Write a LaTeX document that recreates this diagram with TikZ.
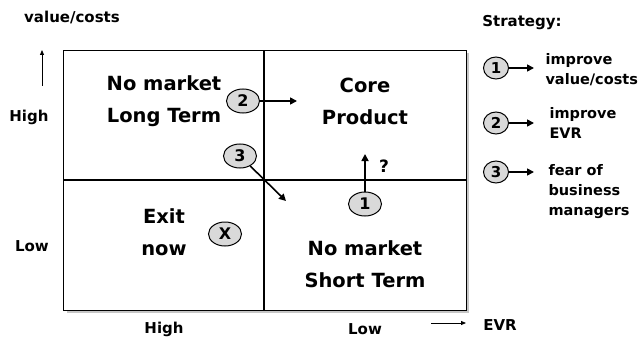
\documentclass[tikz,border=0pt]{standalone}
\usepackage{fontspec}
\setmainfont{DejaVu Sans}
\usetikzlibrary{arrows.meta,shapes.geometric}

\begin{document}
\begin{tikzpicture}[x=1pt,y=-1pt,
    quad/.style={font=\bfseries\fontsize{19.5}{32}\selectfont, align=center},
    side/.style={font=\bfseries\fontsize{15}{18}\selectfont},
    legend/.style={font=\bfseries\fontsize{14.5}{20}\selectfont, align=left, anchor=west},
    numcirc/.style={ellipse, draw, line width=1pt, fill=gray!30, minimum width=33pt,
        minimum height=24pt, inner sep=0pt, font=\bfseries\fontsize{16}{16}\selectfont},
    keycirc/.style={numcirc, minimum width=25pt, minimum height=22pt,
        font=\bfseries\fontsize{15}{15}\selectfont},
    strat/.style={-{Triangle[length=7pt,width=7pt]}, line width=1.6pt},
    axis/.style={-{Triangle[length=5pt,width=4pt]}, line width=0.8pt}]
    \useasboundingbox (0,0) rectangle (644,342);

    % draw the matrix
    \draw[gray!45, line width=2pt] (67,312) -- (468,312) -- (468,53);
    \draw[fill=white, line width=1pt] (63,51) rectangle (466,310);
    \draw[line width=1.3pt] (264,51) -- (264,310);
    \draw[line width=1.6pt] (63,180) -- (466,180);

    % the axes
    \node[side] (vc) at (72,17) {value/costs};
    \coordinate (up0) at (42,86);
    \coordinate (up1) at (42,50);
    \draw[axis] (up0) -- (up1);
    \node[side] (vhigh) at (29,117) {High};
    \node[side] (vlow) at (32,246) {Low};
    \node[side] (ehigh) at (164,329) {High};
    \node[side] (elow) at (365,329) {Low};
    \node[side] (evr) at (500,325) {EVR};
    \coordinate (ev0) at (431,323);
    \coordinate (ev1) at (466,323);
    \draw[axis] (ev0) -- (ev1);

    % the quadrants
    \node[quad] (longterm) at (164,101) {No market\\Long Term};
    \node[quad] (core) at (365,101) {Core\\Product};
    \node[quad] (exit) at (164,232) {Exit\\now};
    \node[quad] (shortterm) at (365,264) {No market\\Short Term};

    % the strategies in the matrix
    \node[numcirc] (c2) at (243,101) {2};
    \node[numcirc] (c3) at (240,156) {3};
    \node[numcirc] (c1) at (365,204) {1};
    \node[numcirc] (cx) at (225,234) {X};
    \coordinate (t2) at (297,101);
    \coordinate (t3) at (286,201);
    \coordinate (t1) at (365,154);
    \draw[strat] (c2) -- (t2);
    \draw[strat] (c3) -- (t3);
    \draw[strat] (c1) -- (t1);
    \node[side, font=\bfseries\fontsize{17}{18}\selectfont] (qm) at (384,166) {?};

    % the legend
    \node[side] (strategy) at (522,23) {Strategy:};
    \node[keycirc] (k1) at (496,68) {1};
    \node[keycirc] (k2) at (496,123) {2};
    \node[keycirc] (k3) at (496,172) {3};
    \node[legend] (l1) at (542,70) {improve\\value/costs};
    \node[legend] (l2) at (546,123) {improve\\EVR};
    \node[legend] (l3) at (545,192) {fear of\\business\\managers};
    \coordinate (a1) at (534,68);
    \coordinate (a2) at (534,123);
    \coordinate (a3) at (534,172);
    \draw[strat] (k1) -- (a1);
    \draw[strat] (k2) -- (a2);
    \draw[strat] (k3) -- (a3);
\end{tikzpicture}
\end{document}
